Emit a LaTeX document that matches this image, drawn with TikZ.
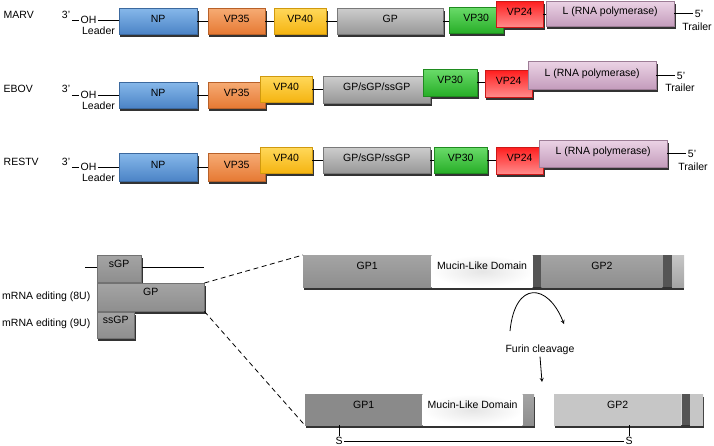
\documentclass[tikz,border=0pt]{standalone}
\usepackage{fontspec}
\setmainfont{Liberation Sans}
\usetikzlibrary{arrows, positioning, backgrounds}

\definecolor{npa}{HTML}{86B8EA}
\definecolor{npb}{HTML}{4B83C6}
\definecolor{vpa}{HTML}{F6AB74}
\definecolor{vpb}{HTML}{E67933}
\definecolor{vfa}{HTML}{FFD85A}
\definecolor{vfb}{HTML}{F5B411}
\definecolor{gpa}{HTML}{CDCDCD}
\definecolor{gpb}{HTML}{979797}
\definecolor{vta}{HTML}{6ADB6A}
\definecolor{vtb}{HTML}{27AE27}
\definecolor{vra}{HTML}{FF1E1E}
\definecolor{vrb}{HTML}{FF8C8C}
\definecolor{lpa}{HTML}{EBD3E5}
\definecolor{lpb}{HTML}{C49CBC}
\definecolor{sga}{HTML}{A4A4A4}
\definecolor{sgm}{HTML}{BABABA}
\definecolor{sgb}{HTML}{8E8E8E}
\definecolor{dka}{HTML}{8A8A8A}
\definecolor{lta}{HTML}{DADADA}
\definecolor{ltb}{HTML}{C6C6C6}
\definecolor{bar}{HTML}{555555}
\definecolor{shd}{HTML}{333333}

\tikzstyle{txt} = [inner sep=1.5pt, font=\fontsize{10.5}{12}\selectfont]
\tikzstyle{gene} = [rectangle, anchor=north west, inner sep=0pt, minimum height=26pt,
text height=7pt, text depth=5pt, font=\fontsize{10.5}{12}\selectfont, line width=0.4pt]
\tikzstyle{np} = [gene, top color=npa, bottom color=npb, draw=npb!80!black]
\tikzstyle{vp35} = [gene, top color=vpa, bottom color=vpb, draw=vpb!80!black]
\tikzstyle{vp40} = [gene, top color=vfa, bottom color=vfb, draw=vfb!85!black]
\tikzstyle{gp} = [gene, top color=gpa, bottom color=gpb, draw=gpb!80!black]
\tikzstyle{vp30} = [gene, top color=vta, bottom color=vtb, draw=vtb!80!black]
\tikzstyle{vp24} = [gene, top color=vra, bottom color=vrb, draw=vra!80!black]
\tikzstyle{lpol} = [gene, top color=lpa, bottom color=lpb, draw=lpb!80!black]
\tikzstyle{prot} = [rectangle, anchor=north west, inner sep=0pt, minimum height=28pt,
text height=7pt, text depth=10pt, font=\fontsize{10.5}{12}\selectfont,
top color=sga, middle color=sgm, bottom color=sgb, draw=sgb!80!black, line width=0.4pt]
\tikzstyle{seg} = [rectangle, inner sep=0pt, minimum height=32pt,
text height=7pt, text depth=10pt, font=\fontsize{10.5}{12}\selectfont]
\tikzstyle{gseg} = [seg, top color=sga, middle color=sgm, bottom color=sgb]
\tikzstyle{mseg} = [seg, inner color=black!10, outer color=white]
\tikzstyle{bseg} = [seg, fill=bar]
\tikzstyle{link} = [line width=0.8pt]
\tikzstyle{arrow} = [line width=0.8pt,->,>=stealth]

\begin{document}
\begin{tikzpicture}[x=1pt, y=-1pt]
\useasboundingbox (0,0) rectangle (714,446);

\node (mlab) [txt, anchor=west] at (2,15) {MARV};
\node (m3) [txt] at (66,15) {3’};
\node (moh) [txt] at (88.5,20) {OH};
\node (mlead) [txt] at (98.5,31) {Leader};
\node (mnp) [np, minimum width=78pt] at (119,8) {NP};
\node (mvp35) [vp35, minimum width=57pt] at (208,8) {VP35};
\node (mvp40) [vp40, minimum width=52pt] at (274,8) {VP40};
\node (mgp) [gp, minimum width=106pt] at (337,8) {GP};
\node (mvp30) [vp30, minimum width=54pt] at (449,7) {VP30};
\node (mvp24) [vp24, minimum width=47pt] at (496,1) {VP24};
\node (ml) [lpol, minimum width=128pt, minimum height=25pt] at (546,1) {L (RNA polymerase)};
\node (m5) [txt] at (699,14) {5’};
\node (mtrail) [txt] at (697,27) {Trailer};

\draw [link] (m3.east |- moh.west) -- (moh.west);
\draw [link] (moh.east) -- (moh.east -| mnp.west);
\draw [link] (mnp.east) -- (mnp.east -| mvp35.west);
\draw [link] (mvp35.east) -- (mvp35.east -| mvp40.west);
\draw [link] (mvp40.east) -- (mvp40.east -| mgp.west);
\draw [link] (mgp.east) -- (mgp.east -| mvp30.west);
\draw [link] (mvp24.east) -- (mvp24.east -| ml.west);
\draw [link] (ml.east) -- (ml.east -| m5.west);

\node (elab) [txt, anchor=west] at (2,89) {EBOV};
\node (e3) [txt] at (66,89) {3’};
\node (eoh) [txt] at (88.5,95) {OH};
\node (elead) [txt] at (98.5,106) {Leader};
\node (enp) [np, minimum width=78pt] at (119,82) {NP};
\node (evp35) [vp35, minimum width=57pt] at (208,82) {VP35};
\node (evp40) [vp40, minimum width=52pt] at (260,76) {VP40};
\node (egp) [gp, minimum width=107pt, minimum height=27pt] at (323,76) {GP/sGP/ssGP};
\node (evp30) [vp30, minimum width=54pt, minimum height=27pt] at (423,69) {VP30};
\node (evp24) [vp24, minimum width=47pt, minimum height=27pt] at (485,70) {VP24};
\node (el) [lpol, minimum width=128pt, minimum height=28pt] at (528,61) {L (RNA polymerase)};
\node (e5) [txt] at (681,76) {5’};
\node (etrail) [txt] at (680,88) {Trailer};

\draw [link] (e3.east |- eoh.west) -- (eoh.west);
\draw [link] (eoh.east) -- (eoh.east -| enp.west);
\draw [link] (enp.east) -- (enp.east -| evp35.west);
\draw [link] (evp40.east) -- (evp40.east -| egp.west);
\draw [link] (evp30.east) -- (evp30.east -| evp24.west);
\draw [link] (el.east) -- (el.east -| e5.west);

\node (rlab) [txt, anchor=west] at (2,162) {RESTV};
\node (r3) [txt] at (66,162) {3’};
\node (roh) [txt] at (88.5,167) {OH};
\node (rlead) [txt] at (98.5,178) {Leader};
\node (rnp) [np, minimum width=78pt, minimum height=28pt] at (119,153) {NP};
\node (rvp35) [vp35, minimum width=57pt, minimum height=28pt] at (208,153) {VP35};
\node (rvp40) [vp40, minimum width=52pt] at (260,147) {VP40};
\node (rgp) [gp, minimum width=107pt] at (323,147) {GP/sGP/ssGP};
\node (rvp30) [vp30, minimum width=53pt] at (434,147) {VP30};
\node (rvp24) [vp24, minimum width=47pt, minimum height=27pt] at (496,147) {VP24};
\node (rl) [lpol, minimum width=128pt, minimum height=27pt] at (539,140) {L (RNA polymerase)};
\node (r5) [txt] at (692,154) {5’};
\node (rtrail) [txt] at (693,167) {Trailer};

\draw [link] (r3.east |- roh.west) -- (roh.west);
\draw [link] (roh.east) -- (roh.east -| rnp.west);
\draw [link] (rnp.east) -- (rnp.east -| rvp35.west);
\draw [link] (rvp40.east) -- (rvp40.east -| rgp.west);
\draw [link] (rgp.east) -- (rgp.east -| rvp30.west);
\draw [link] (rvp30.east) -- (rvp30.east -| rvp24.west);
\draw [link] (rl.east) -- (rl.east -| r5.west);

\coordinate (tl) at (85,267);
\coordinate (tr) at (204,267);
\draw [link] (tl) -- (tr);
\node (bsgp) [prot, minimum width=44pt, minimum height=27pt] at (97,255) {sGP};
\node (bgp) [prot, minimum width=107pt] at (97,283) {GP};
\node (bssgp) [prot, minimum width=37pt, minimum height=26pt] at (97,312) {ssGP};
\node (ed8) [txt, anchor=east] at (92,297) {mRNA editing (8U)};
\node (ed9) [txt, anchor=east] at (92,324) {mRNA editing (9U)};

\node (tgp) [rectangle, anchor=north west, minimum width=379pt, minimum height=32pt, inner sep=0pt, fill=sga] at (303,255) {};
\node (tg1) [gseg, anchor=north west, minimum width=128pt] at (303,255) {GP1};
\node (tmuc) [mseg, right=0pt of tg1, minimum width=101pt] {Mucin-Like Domain};
\node (tbar1) [bseg, right=0pt of tmuc, minimum width=8pt] {};
\node (tg2) [gseg, right=0pt of tbar1, minimum width=121pt] {GP2};
\node (tbar2) [bseg, right=0pt of tg2, minimum width=9pt] {};
\node (ttail) [seg, right=0pt of tbar2, minimum width=12pt, top color=ltb, bottom color=sga] {};

\draw [link, dashed, dash pattern=on 5pt off 3.5pt] (bgp.north east) -- (tg1.north west);

\coordinate (fa) at (510,331);
\coordinate (fb) at (564,324);
\draw [arrow] (fa) .. controls (515,280) and (548,283) .. (fb);
\node (furin) [txt] at (540,350) {Furin cleavage};
\coordinate (cut) at (542,382);
\draw [arrow] (furin.south) -- (cut);

\node (lgp) [rectangle, anchor=north west, minimum width=228pt, minimum height=31pt, inner sep=0pt, fill=sga] at (305,394) {};
\node (lg1) [seg, anchor=north west, minimum width=117pt, minimum height=31pt,
top color=dka, middle color=sga, bottom color=dka] at (305,394) {GP1};
\node (lmuc) [mseg, right=0pt of lg1, minimum width=100pt, minimum height=31pt] {Mucin-Like Domain};
\node (ltail) [gseg, right=0pt of lmuc, minimum width=11pt, minimum height=31pt] {};

\node (lgp2) [rectangle, anchor=north west, minimum width=148pt, minimum height=31pt, inner sep=0pt, fill=lta] at (554,394) {};
\node (lg2) [seg, anchor=north west, minimum width=127pt, minimum height=31pt,
top color=ltb, middle color=lta, bottom color=ltb] at (554,394) {GP2};
\node (lbar) [bseg, right=0pt of lg2, minimum width=8pt, minimum height=31pt] {};
\node (ltail2) [seg, right=0pt of lbar, minimum width=13pt, minimum height=31pt,
top color=ltb, middle color=lta, bottom color=ltb] {};

\draw [link, dashed, dash pattern=on 5pt off 3.5pt] (bgp.south east) -- (lg1.south west);

\node (s1) [txt] at (339,441) {S};
\node (s2) [txt] at (629,441) {S};
\draw [link] (s1.north) -- (s1.north |- lg1.south);
\draw [link] (s2.north) -- (s2.north |- lg2.south);
\draw [link] (s1.east) -- (s2.west);

\begin{pgfonlayer}{background}
\foreach \b in {mnp,mvp35,mvp40,mgp,mvp30,mvp24,ml,enp,evp35,evp40,egp,evp30,evp24,el,
rnp,rvp35,rvp40,rgp,rvp30,rvp24,rl,bsgp,bgp,bssgp,tgp,lgp,lgp2}
  \fill [shd] (\b.south west) ++(1.2,2.6) rectangle ([xshift=1.2pt, yshift=-2.6pt]\b.north east);
\end{pgfonlayer}

\end{tikzpicture}
\end{document}
